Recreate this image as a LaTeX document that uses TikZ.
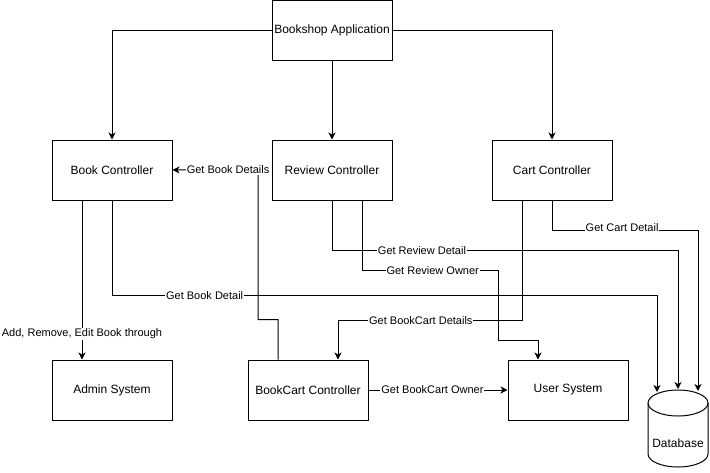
\documentclass[tikz,border=0pt]{standalone}
\usepackage{fontspec}
\setmainfont{Liberation Sans}
\usetikzlibrary{arrows.meta,calc}
\begin{document}
\begin{tikzpicture}[x=1pt,y=-1pt,
  box/.style={draw, line width=1pt, minimum width=120pt, minimum height=60pt, inner sep=0pt, font=\fontsize{12}{14}\selectfont},
  lbl/.style={fill=white, inner sep=1pt, font=\fontsize{11}{13}\selectfont},
  arr/.style={line width=1pt, -{Stealth[length=7pt,width=7pt,inset=2pt]}}]
\useasboundingbox (0,0) rectangle (710,472);
\node[box] (app) at (332,30) {Bookshop Application};
\node[box] (bc) at (112,170) {Book Controller};
\node[box] (rc) at (332,170) {Review Controller};
\node[box] (cc) at (552,170) {Cart Controller};
\node[box] (admin) at (112,390) {Admin System};
\node[box] (bcc) at (308,390) {BookCart Controller};
\node[box] (us) at (568,390) {User System};
% database cylinder
\draw[line width=1pt, fill=white] (648,403) -- (648,454) arc[start angle=180, end angle=360, x radius=30, y radius=-13] -- (708,403) arc[start angle=0, end angle=180, x radius=30, y radius=-13] -- cycle;
\draw[line width=1pt] (648,403) arc[start angle=180, end angle=360, x radius=30, y radius=-13];
\node[inner sep=0pt, font=\fontsize{12}{14}\selectfont] (db) at (678,443) {Database};
\coordinate (d1) at (657,392);
\coordinate (d2) at (678,389);
\coordinate (d3) at (698,391);
% top connectors
\draw[arr] (app.west) -| (bc.north);
\draw[arr] (app.south) -- (rc.north);
\draw[arr] (app.east) -| (cc.north);
% book controller
\draw[arr] ([xshift=-30pt]bc.south) -- node[lbl, pos=0.84]{Add, Remove, Edit Book through} ([xshift=-30pt]admin.north);
\draw[arr] (bc.south) -- ++(0,95) coordinate (k1) -- node[lbl, pos=0.17]{Get Book Detail} (k1 -| d1) -- (d1);
% review controller
\draw[arr] (rc.south) -- ++(0,50) coordinate (k2) -- node[lbl, pos=0.26]{Get Review Detail} (k2 -| d2) -- (d2);
\draw[arr] ([xshift=30pt]rc.south) -- ++(0,70) coordinate (k3) -- node[lbl, pos=0.52]{Get Review Owner} ++(136,0) -- ++(0,70) -- ++(40,0) -- ([xshift=-30pt]us.north);
% cart controller
\draw[arr] ([xshift=-30pt]cc.south) -- ++(0,120) -- node[lbl, pos=0.55]{Get BookCart Details} ++(-184,0) -- ([xshift=30pt]bcc.north);
\draw[arr] (cc.south) -- ++(0,30) coordinate (k4) -- node[lbl, pos=0.48, yshift=3pt]{Get Cart Detail} (k4 -| d3) -- (d3);
% bookcart controller
\draw[arr] ([xshift=-30pt]bcc.north) -- ++(0,-40) -- ++(-20,0) -- ++(0,-150) -- node[lbl, pos=0.35]{Get Book Details} (bc.east);
\draw[arr] (bcc.east) -- node[lbl, pos=0.46]{Get BookCart Owner} (us.west);
\end{tikzpicture}
\end{document}
